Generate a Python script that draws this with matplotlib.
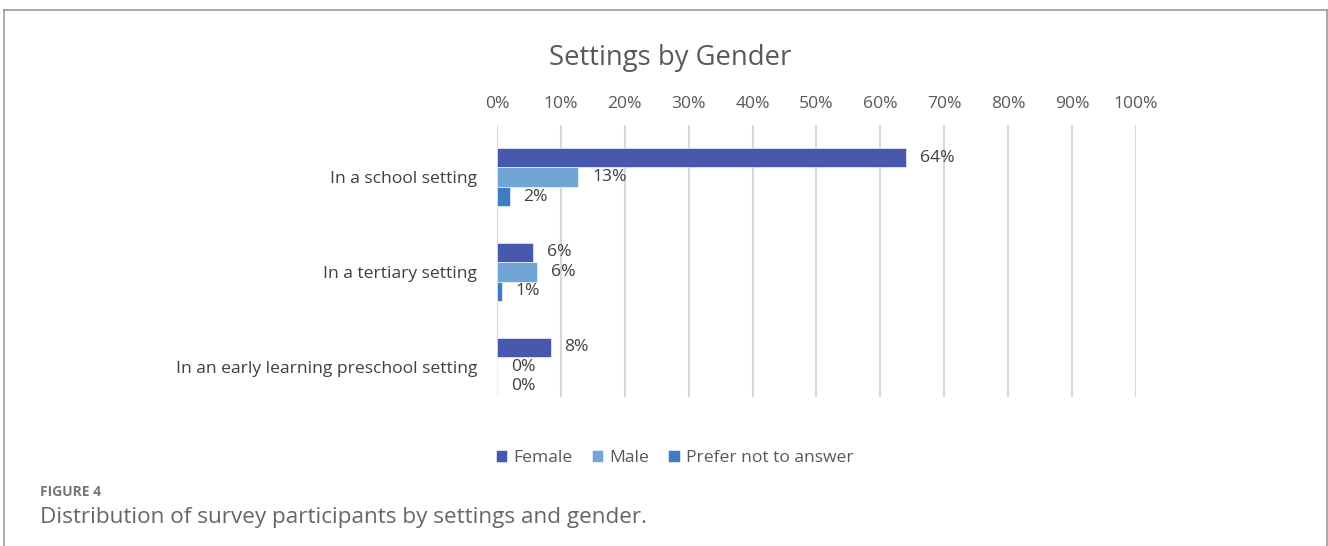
import numpy as np
import matplotlib.pyplot as plt
from matplotlib.lines import Line2D

plt.rcParams['font.family'] = ['Open Sans', 'DejaVu Sans']

settings = ['In a school setting', 'In a tertiary setting',
            'In an early learning preschool setting']
series = ['Female', 'Male', 'Prefer not to answer']
female = [0.64, 0.056, 0.084]
male = [0.127, 0.063, 0.0]
prefer = [0.02, 0.008, 0.0]
colors = ['#4859AD', '#71A5D5', '#3E7DC1']

fig = plt.figure(figsize=(13.28, 5.46), dpi=100)
ax = fig.add_axes([0.3742, 0.2729, 0.4812, 0.4982])

fs = 12.6
y = np.arange(len(settings))
h = 0.205
for k, (vals, name, c) in enumerate(zip([female, male, prefer], series, colors)):
    bars = ax.barh(y + (k - 1) * h, vals, height=h, color=c, label=name,
                   edgecolor='white', linewidth=0.4)
    ax.bar_label(bars, labels=[f'{v:.0%}' for v in vals], padding=10,
                 fontsize=fs, color='#404040')

ax.set_xlim(0, 1)
ax.set_ylim(2.32, -0.55)
ax.set_xticks(np.arange(0, 1.01, 0.1))
ax.set_xticklabels([f'{int(round(t * 100))}%' for t in np.arange(0, 1.01, 0.1)])
ax.xaxis.tick_top()
ax.tick_params(axis='x', length=0, pad=9, labelsize=fs, labelcolor='#595959')
ax.set_yticks(y)
ax.set_yticklabels(settings)
ax.tick_params(axis='y', length=0, pad=14, labelsize=fs, labelcolor='#404040')
ax.grid(axis='x', color='#d9d9d9', linewidth=1.5)
ax.set_axisbelow(True)
for s in ax.spines.values():
    s.set_visible(False)

fig.text(0.505, 1 - 58 / 546, 'Settings by Gender', ha='center', va='center',
         fontsize=19.8, color='#595959')

fig.legend(loc='center', bbox_to_anchor=(0.508, 1 - 458 / 546), ncol=3,
           frameon=False, fontsize=fs, handlelength=0.65, handleheight=0.65,
           columnspacing=1.1, handletextpad=0.35, labelcolor='#595959')

# figure frame (top, left, right)
fc = '#9a9a9a'
fig.add_artist(Line2D([4 / 1328, 1327 / 1328], [1 - 10 / 546] * 2, color=fc, lw=1.2))
fig.add_artist(Line2D([4 / 1328] * 2, [0, 1 - 10 / 546], color=fc, lw=1.2))
fig.add_artist(Line2D([1327 / 1328] * 2, [0, 1 - 10 / 546], color=fc, lw=1.2))

fig.text(40 / 1328, 1 - 492 / 546, 'FIGURE 4', ha='left', va='center',
         fontsize=10, color='#777777', fontweight='bold')
fig.text(40 / 1328, 1 - 517 / 546,
         'Distribution of survey participants by settings and gender.',
         ha='left', va='center', fontsize=16.2, color='#666666')

fig.savefig('out.png', dpi=100)
